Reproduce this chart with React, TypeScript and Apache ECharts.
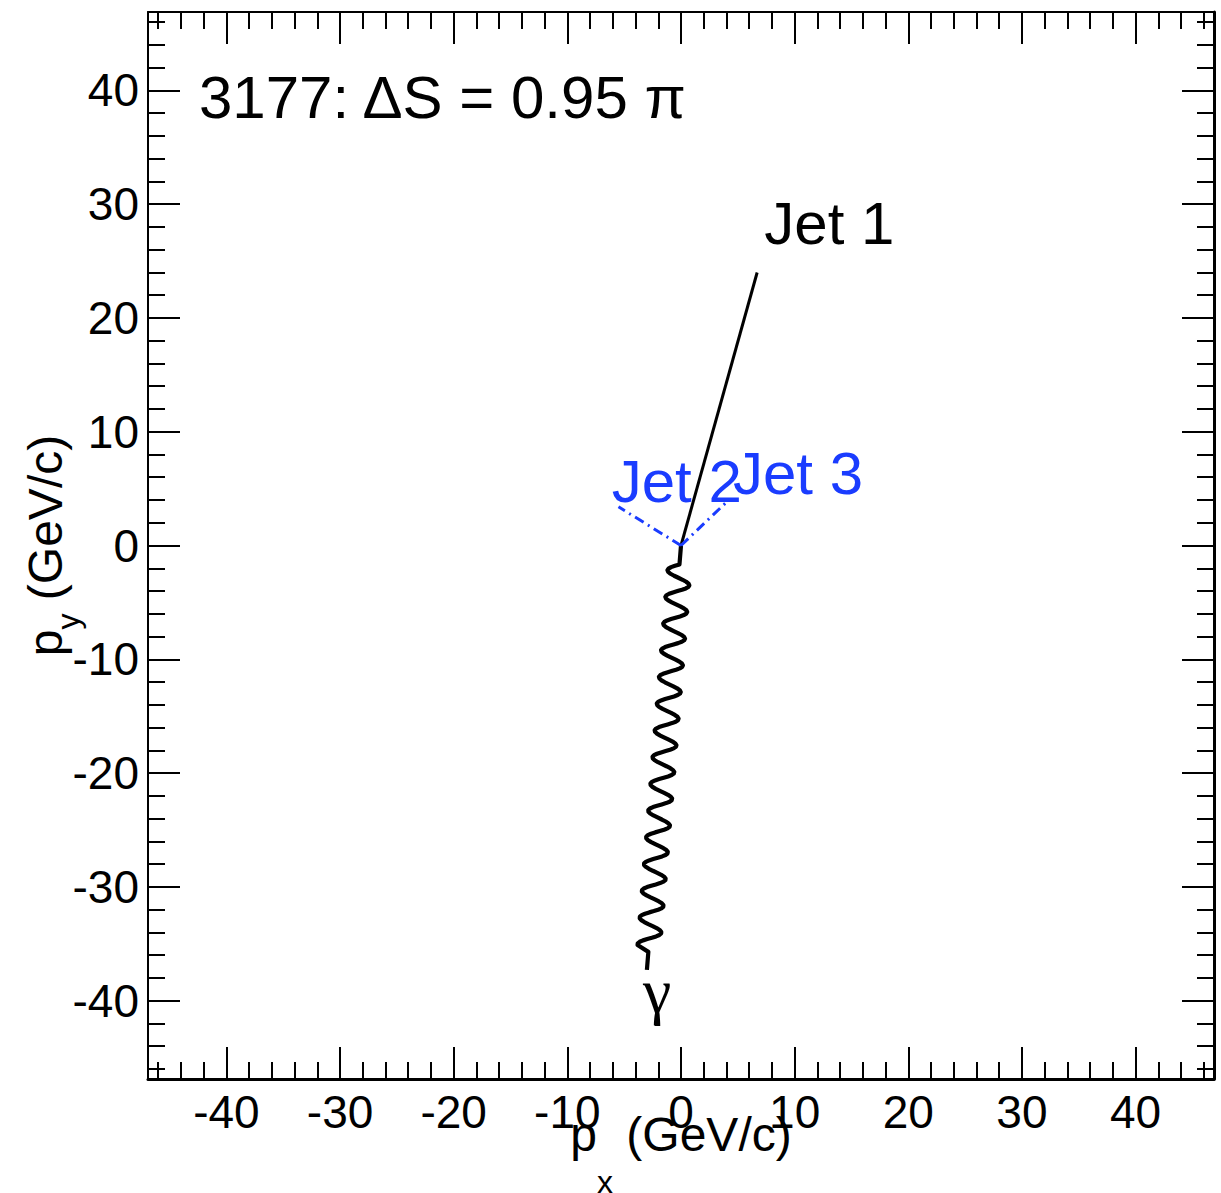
import React, { useEffect, useRef } from "react";
import * as echarts from "echarts";

// ---- axis ranges & ticks ----
const AXIS_MIN = -46.9;
const AXIS_MAX = 46.9;
const MAJOR_STEP = 10;
const MINOR_STEP = 2;

// ---- event data (GeV/c) ----
const jetNames = ["Jet 1", "Jet 2", "Jet 3"];
const jetPx = [6.7, -5.5, 4.2];
const jetPy = [24.0, 3.4, 4.0];
const jetColors = ["#000000", "#1a3cff", "#1a3cff"];
const jetDashed = [false, true, true];

const photonName = "γ";
const photonPx = -3.0;
const photonPy = -37.3;

// labels sit at this multiple of each momentum vector
const LABEL_SCALE = 1.1;

const titleText = "3177: ΔS = 0.95 π";

// ---- style constants ----
const FONT = "'Liberation Sans', Arial, Helvetica, sans-serif";
const SERIF = "'Liberation Serif', 'Times New Roman', serif";
const WAVE_LEN = 26.8; // px
const WAVE_AMP = 11.5; // px
const WAVE_LEAD = 19; // px straight part at start
const WAVE_TAIL = 24; // px straight part at end

function majorAxis(position: string, withLabels: boolean, lineWidth: number) {
  return {
    type: "value",
    position,
    min: AXIS_MIN,
    max: AXIS_MAX,
    minInterval: MAJOR_STEP,
    maxInterval: MAJOR_STEP,
    axisLine: { show: true, onZero: false, lineStyle: { color: "#000", width: lineWidth } },
    axisTick: { show: true, inside: true, length: 32, lineStyle: { color: "#000", width: 2 } },
    splitLine: { show: false },
    axisLabel: withLabels
      ? {
          show: true,
          showMinLabel: false,
          showMaxLabel: false,
          color: "#000",
          fontSize: 46,
          fontFamily: FONT,
          margin: position === "bottom" ? 10 : 9,
        }
      : { show: false },
  };
}

function minorAxis(position: string) {
  return {
    type: "value",
    position,
    min: AXIS_MIN,
    max: AXIS_MAX,
    minInterval: MINOR_STEP,
    maxInterval: MINOR_STEP,
    axisLine: { show: false, onZero: false },
    axisTick: { show: true, inside: true, length: 17, lineStyle: { color: "#000", width: 2 } },
    splitLine: { show: false },
    axisLabel: { show: false },
  };
}

const titleRich = (subPad: number) => ({
  m: { fontSize: 48, lineHeight: 48, fontFamily: FONT, color: "#000", verticalAlign: "top" },
  s: {
    fontSize: 32,
    lineHeight: 32,
    fontFamily: FONT,
    color: "#000",
    verticalAlign: "top",
    padding: [subPad, 0, 0, 0],
  },
});

export default function App() {
  const ref = useRef<HTMLDivElement>(null);

  useEffect(() => {
    document.body.style.margin = "0";
    if (!ref.current) return;
    const chart = echarts.init(ref.current, undefined, { renderer: "svg" });

    const xAxes: any[] = [
      {
        ...majorAxis("bottom", true, 3),
        name: "{m|p}{s|x}{m| (GeV/c)}",
        nameLocation: "middle",
        nameGap: 31,
        nameMoveOverlap: false,
        nameTextStyle: { rich: titleRich(56) },
      },
      minorAxis("bottom"),
      majorAxis("top", false, 2),
      minorAxis("top"),
    ];
    const yAxes: any[] = [
      {
        ...majorAxis("left", true, 2),
        name: "{m|p}{s|y}{m| (GeV/c)}",
        nameLocation: "middle",
        nameRotate: 90,
        nameGap: 79,
        nameMoveOverlap: false,
        nameTextStyle: { rich: titleRich(31) },
      },
      minorAxis("left"),
      majorAxis("right", false, 3),
      minorAxis("right"),
    ];

    const jetSeries = jetNames.map((name, i) => ({
      type: "line",
      name,
      xAxisIndex: 0,
      yAxisIndex: 0,
      z: 3,
      data: [
        [0, 0],
        [jetPx[i], jetPy[i]],
      ],
      showSymbol: false,
      symbol: "none",
      silent: true,
      lineStyle: {
        color: jetColors[i],
        width: 3,
        opacity: 1,
        type: jetDashed[i] ? [10, 5, 2, 5] : "solid",
      },
    }));

    const photonSeries = {
      type: "custom",
      name: photonName,
      xAxisIndex: 0,
      yAxisIndex: 0,
      z: 3,
      silent: true,
      data: [[0, 0, photonPx, photonPy]],
      encode: { x: [0, 2], y: [1, 3] },
      renderItem: (_params: any, api: any) => {
        const a = api.coord([api.value(0), api.value(1)]);
        const b = api.coord([api.value(2), api.value(3)]);
        const dx = b[0] - a[0];
        const dy = b[1] - a[1];
        const L = Math.hypot(dx, dy);
        const ux = dx / L;
        const uy = dy / L;
        const nx = -uy;
        const ny = ux;
        const s0 = WAVE_LEAD;
        const s1 = L - WAVE_TAIL;
        const steps = Math.ceil(((s1 - s0) / WAVE_LEN) * 16);
        const pts: number[][] = [[a[0], a[1]]];
        for (let i = 0; i <= steps; i++) {
          const s = s0 + ((s1 - s0) * i) / steps;
          const o = WAVE_AMP * Math.sin((2 * Math.PI * (s - s0)) / WAVE_LEN);
          pts.push([a[0] + ux * s + nx * o, a[1] + uy * s + ny * o]);
        }
        pts.push([a[0] + ux * (s1 + 6), a[1] + uy * (s1 + 6)]);
        pts.push([b[0], b[1]]);
        return {
          type: "polyline",
          shape: { points: pts },
          style: { stroke: "#000", lineWidth: 4.2, fill: null, lineJoin: "round", opacity: 1 },
        };
      },
    };

    const labelItems = [
      ...jetNames.map((name, i) => ({
        name,
        value: [jetPx[i] * LABEL_SCALE, jetPy[i] * LABEL_SCALE],
        label: { color: jetColors[i] },
      })),
      {
        name: photonName,
        value: [photonPx * LABEL_SCALE, photonPy * LABEL_SCALE],
        label: { color: "#000", fontFamily: SERIF, fontSize: 64 },
      },
    ];

    const labelSeries = {
      type: "scatter",
      xAxisIndex: 0,
      yAxisIndex: 0,
      z: 1,
      silent: true,
      symbolSize: 1,
      itemStyle: { color: "rgba(0,0,0,0)", opacity: 1 },
      data: labelItems,
      label: {
        show: true,
        formatter: "{b}",
        position: [0, 0],
        align: "left",
        verticalAlign: "bottom",
        fontSize: 60,
        lineHeight: 60,
        offset: [0, 9],
        opacity: 1,
        fontFamily: FONT,
      },
      emphasis: { disabled: true },
    };

    chart.setOption({
      animation: false,
      backgroundColor: "#fff",
      title: {
        text: titleText,
        left: 199,
        top: 67,
        padding: 0,
        textStyle: {
          fontSize: 60,
          lineHeight: 60,
          fontWeight: "normal",
          color: "#000",
          fontFamily: FONT,
        },
      },
      grid: {
        left: 148,
        top: 12,
        right: 7,
        bottom: 114,
        containLabel: false,
        outerBoundsMode: "none",
      },
      xAxis: xAxes,
      yAxis: yAxes,
      series: [labelSeries, ...jetSeries, photonSeries],
    });

    return () => chart.dispose();
  }, []);

  return <div ref={ref} style={{ width: 1221, height: 1193 }} />;
}
